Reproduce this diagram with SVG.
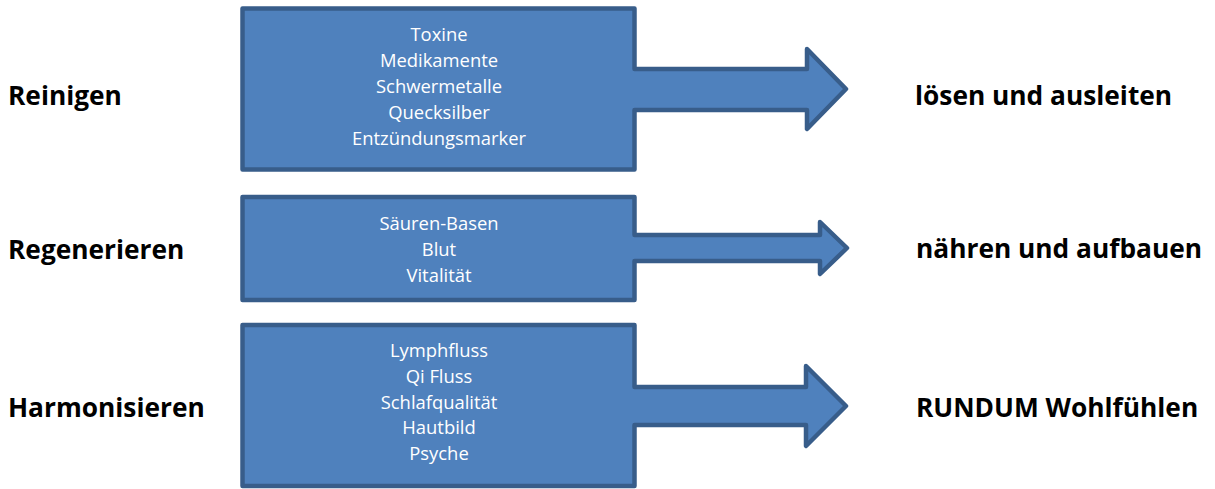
<svg xmlns="http://www.w3.org/2000/svg" width="1215" height="489" viewBox="0 0 1215 489">
<style>
.shape{fill:#4F81BD;stroke:#385D8A;stroke-width:4.5;stroke-linejoin:round}
.inner{font-family:"Open Sans","Noto Sans",sans-serif;font-size:18.4px;fill:#FFFFFF;text-anchor:middle}
.label{font-family:"Open Sans","Noto Sans",sans-serif;font-size:26.3px;font-weight:bold;fill:#000000}
</style>
<rect width="1215" height="489" fill="#FFFFFF"/>
<g id="connectors"></g>
<g id="row1">
<path class="shape" d="M242.5,8.5 H634.5 V69 H807 V49 L846,89 L807,129 V110 H634.5 V169.5 H242.5 Z"/>
<text class="inner" x="439" y="41">Toxine</text>
<text class="inner" x="439" y="67">Medikamente</text>
<text class="inner" x="439" y="93">Schwermetalle</text>
<text class="inner" x="439" y="119">Quecksilber</text>
<text class="inner" x="439" y="145">Entzündungsmarker</text>
</g>
<g id="row2">
<path class="shape" d="M242.5,197 H634.5 V235 H820 V222 L847,248 L820,274 V261 H634.5 V300 H242.5 Z"/>
<text class="inner" x="439" y="230">Säuren-Basen</text>
<text class="inner" x="439" y="256">Blut</text>
<text class="inner" x="439" y="282">Vitalität</text>
</g>
<g id="row3">
<path class="shape" d="M242.5,325 H634.5 V387 H806 V366 L846,406 L806,446 V425 H634.5 V486 H242.5 Z"/>
<text class="inner" x="439" y="357">Lymphfluss</text>
<text class="inner" x="439" y="383">Qi Fluss</text>
<text class="inner" x="439" y="409">Schlafqualität</text>
<text class="inner" x="439" y="434">Hautbild</text>
<text class="inner" x="439" y="460">Psyche</text>
</g>
<g id="label-reinigen"><text class="label" x="8" y="105">Reinigen</text></g>
<g id="label-regenerieren"><text class="label" x="8" y="259">Regenerieren</text></g>
<g id="label-harmonisieren"><text class="label" x="8" y="417">Harmonisieren</text></g>
<g id="label-loesen"><text class="label" x="915" y="105">lösen und ausleiten</text></g>
<g id="label-naehren"><text class="label" x="916" y="258">nähren und aufbauen</text></g>
<g id="label-rundum"><text class="label" x="916" y="417">RUNDUM Wohlfühlen</text></g>
</svg>
